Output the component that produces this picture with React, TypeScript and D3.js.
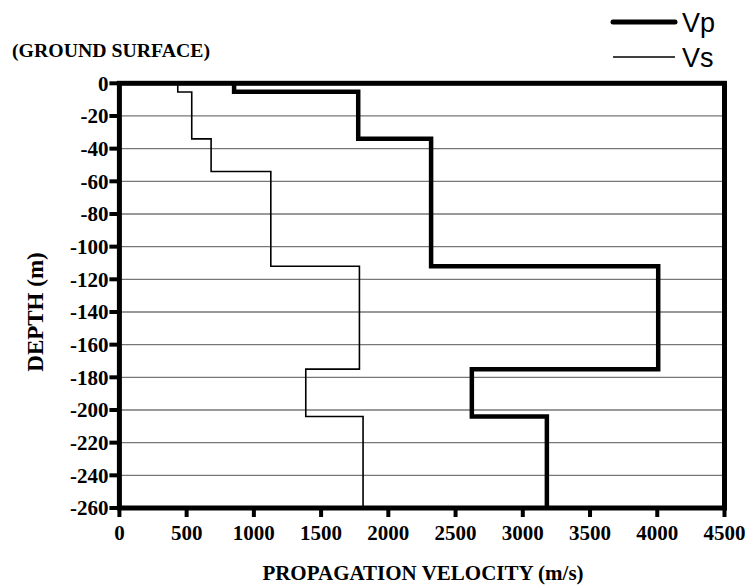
import React from 'react';
import * as d3 from 'd3';

// layer boundaries (depth, m) and velocity in each layer (m/s)
const vpDepths = [0, -5.2, -34, -112, -175, -204, -260];
const vpValues = [853, 1776, 2318, 4007, 2621, 3179];
const vsDepths = [0, -5.3, -34, -54, -112, -175, -204, -260];
const vsValues = [434, 538, 682, 1126, 1785, 1386, 1812];
const xTicks = [0, 500, 1000, 1500, 2000, 2500, 3000, 3500, 4000, 4500];
const yTicks = [0, -20, -40, -60, -80, -100, -120, -140, -160, -180, -200, -220, -240, -260];

const W = 750, H = 585;
const serif = '"Liberation Serif", "Times New Roman", serif';

function steps(depths: number[], vals: number[]) {
  const pts: [number, number][] = [];
  vals.forEach((v, i) => {
    pts.push([v, depths[i]]);
    pts.push([v, depths[i + 1]]);
  });
  return pts;
}

export default function App() {
  const x = d3.scaleLinear().domain([0, 4500]).range([119.4, 724.5]);
  const y = d3.scaleLinear().domain([0, -260]).range([83.3, 508]);
  const line = d3.line<[number, number]>().x(d => x(d[0])).y(d => y(d[1]));

  return (
    <svg width={W} height={H} style={{ position: 'absolute', left: 0, top: 0, background: '#fff' }}>
      {/* grid */}
      {yTicks.slice(1, -1).map(t => (
        <line key={t} x1={x(0)} x2={x(4500)} y1={y(t)} y2={y(t)} stroke="#777" strokeWidth={1.3} />
      ))}
      {/* series */}
      <path d={line(steps(vsDepths, vsValues)) || ''} fill="none" stroke="#000" strokeWidth={1.6} />
      <path d={line(steps(vpDepths, vpValues)) || ''} fill="none" stroke="#000" strokeWidth={4.5} />
      {/* frame */}
      <rect x={x(0)} y={y(0)} width={x(4500) - x(0)} height={y(-260) - y(0)} fill="none" stroke="#000" strokeWidth={5} />
      {/* y ticks */}
      {yTicks.map(t => (
        <g key={t}>
          <line x1={x(0) - 10} x2={x(0)} y1={y(t)} y2={y(t)} stroke="#000" strokeWidth={4} />
          <text x={x(0) - 11} y={y(t)} dy="0.35em" textAnchor="end" fontFamily={serif} fontWeight="bold" fontSize={21}>
            {t}
          </text>
        </g>
      ))}
      {/* x ticks */}
      {xTicks.map(t => (
        <g key={t}>
          <line x1={x(t)} x2={x(t)} y1={y(-260)} y2={y(-260) + 9} stroke="#000" strokeWidth={4} />
          <text x={x(t)} y={540} textAnchor="middle" fontFamily={serif} fontWeight="bold" fontSize={21}>
            {t}
          </text>
        </g>
      ))}
      <text x={423} y={580} textAnchor="middle" fontFamily={serif} fontWeight="bold" fontSize={21}>
        PROPAGATION VELOCITY (m/s)
      </text>
      <text transform="translate(43,312) rotate(-90)" textAnchor="middle" fontFamily={serif} fontWeight="bold" fontSize={23}>
        DEPTH (m)
      </text>
      <text x={12} y={57} fontFamily={serif} fontWeight="bold" fontSize={19.8}>
        (GROUND SURFACE)
      </text>
      {/* legend */}
      <line x1={613} x2={675} y1={22} y2={22} stroke="#000" strokeWidth={5} strokeLinecap="round" />
      <text x={682} y={32} fontFamily='"Liberation Sans", Arial, sans-serif' fontSize={27}>Vp</text>
      <line x1={613} x2={675} y1={57} y2={57} stroke="#000" strokeWidth={1.6} />
      <text x={682} y={67} fontFamily='"Liberation Sans", Arial, sans-serif' fontSize={27}>Vs</text>
    </svg>
  );
}
